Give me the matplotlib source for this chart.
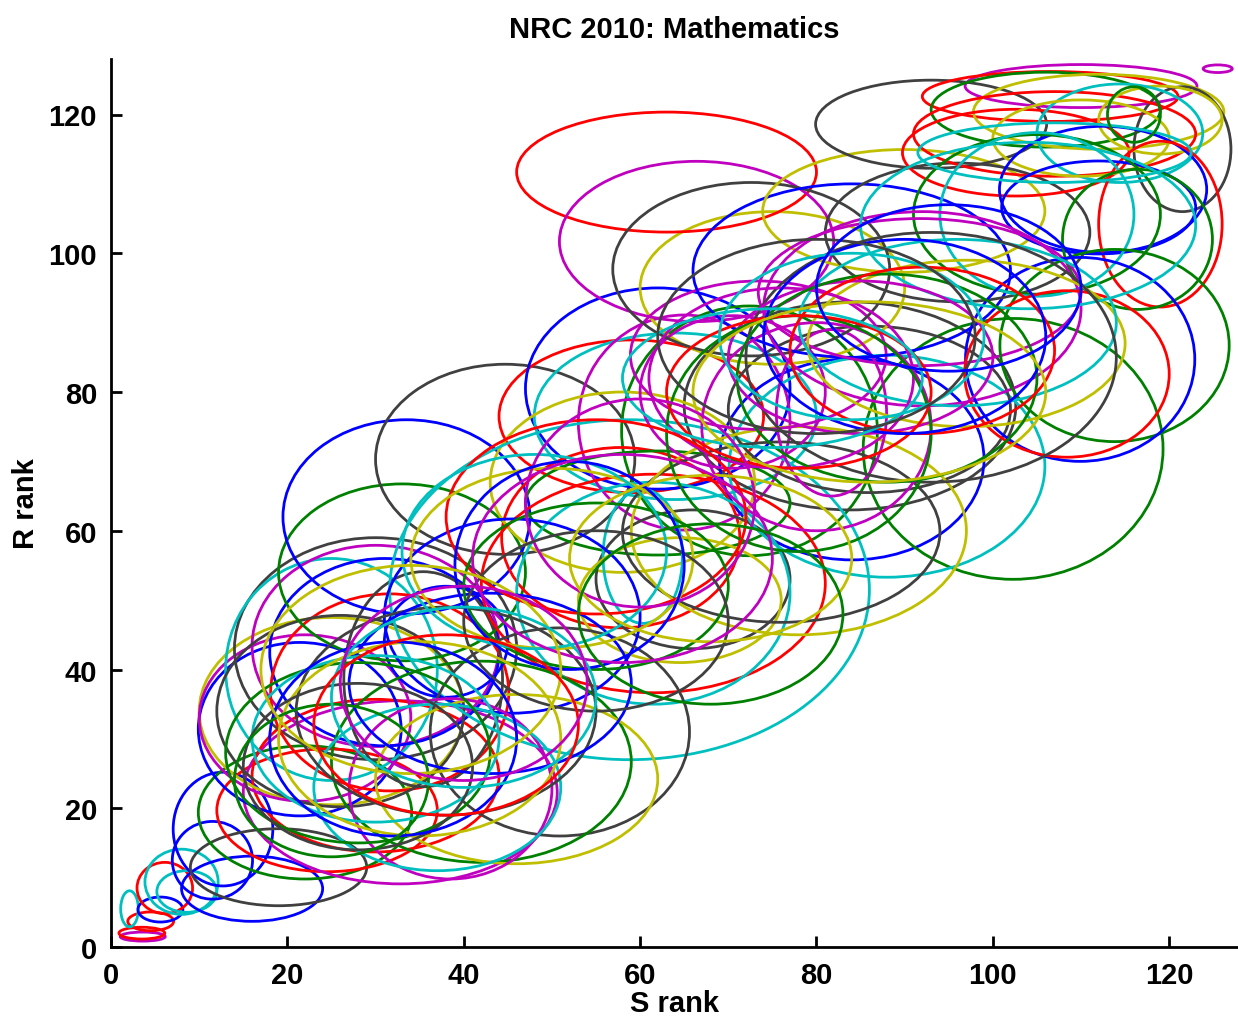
import matplotlib
matplotlib.use("Agg")
from matplotlib import pyplot
from matplotlib.patches import Ellipse

# colour codes (MATLAB style cycle)
COL = {
    "b": "#0000ff", "g": "#008000", "r": "#ff0000", "c": "#00bfbf",
    "m": "#bf00bf", "y": "#bfbf00", "k": "#404040",
}

# one entry per program: colour, S-rank centre, R-rank centre, S range, R range
colors = [
    "m", "r", "r", "c", "b", "r", "c", "c", "b", "b", "b", "k",
    "g", "r", "m", "r", "y", "b", "m", "k", "c", "m", "b", "r", "k", "k", "b", "g", "b",
    "k", "r", "b", "c", "m", "g", "k", "b", "r", "y", "c", "g", "k", "c", "y", "r", "c", "b",
    "k", "g", "y", "m", "c", "k", "b",
    "g", "c", "k", "k", "y", "y", "m", "m", "m",
    "r", "m", "k", "b", "y", "k", "k",
    "m", "m", "r", "g", "y", "k", "r", "r", "y", "c", "y", "b", "r", "b", "g", "c", "g",
    "m", "m", "g", "b", "r", "c", "g",
    "y", "c", "c", "k",
    "m", "m", "m", "g", "g", "r", "r", "b", "c", "c", "y", "k", "b",
    "r", "y", "g", "c", "m", "k", "b", "y", "m", "g",
    "g", "c", "y", "k", "b", "g", "y", "c", "r", "m",
]
s_center = [
    3.6, 3.5, 4.5, 2.1, 5.6, 6.1, 8.0, 8.6, 11.5, 12.7, 16.0, 19.0,
    22.0, 24.5, 32.8, 30.0, 25.0, 21.4, 22.0, 30.0, 25.0, 30.0, 31.0, 31.6, 26.0, 35.4, 38.0, 33.0, 33.5,
    44.7, 59.0, 62.0, 64.0, 65.0, 72.4, 83.8, 84.0, 57.8, 58.0, 58.8, 62.0, 66.0, 60.3, 64.5, 61.5, 61.5, 45.5,
    50.9, 42.0, 46.0, 38.5, 37.0, 38.0, 43.0,
    102.3, 88.0, 86.0, 76.0, 78.0, 75.0, 73.4, 70.5, 81.7,
    63.0, 66.4, 72.6, 84.0, 89.9, 93.0, 96.0,
    125.5, 110.0, 106.5, 106.0, 112.0, 121.5, 107.0, 102.6, 119.0, 114.4, 110.0, 112.5, 119.0, 112.0, 105.0, 105.0, 116.4,
    92.0, 91.7, 113.8, 109.9, 108.4, 107.0, 116.0,
    97.0, 104.0, 96.0, 93.0,
    76.0, 80.0, 85.0, 88.0, 78.0, 92.0, 78.0, 90.0, 84.0, 75.0, 86.0, 80.0, 95.0,
    55.0, 50.0, 55.0, 48.0, 60.0, 55.0, 52.0, 68.0, 58.0, 68.0,
    28.0, 30.0, 35.0, 28.0, 32.0, 25.0, 34.0, 40.0, 38.0, 40.0,
]
r_center = [
    1.5, 2.0, 3.7, 5.5, 5.4, 8.5, 9.4, 8.0, 12.5, 17.0, 8.4, 11.5,
    19.4, 19.7, 22.3, 24.7, 34.0, 31.4, 33.0, 43.0, 40.0, 43.4, 42.5, 36.7, 34.0, 38.6, 44.0, 54.0, 62.0,
    70.3, 76.5, 80.5, 76.5, 75.6, 74.4, 78.0, 70.3, 59.0, 67.0, 51.5, 64.0, 53.0, 56.3, 50.0, 52.4, 51.0, 47.7,
    31.0, 26.7, 24.2, 22.8, 23.0, 34.0, 38.0,
    71.8, 69.3, 77.5, 59.8, 60.0, 95.0, 85.3, 80.0, 77.0,
    111.7, 101.7, 97.7, 97.5, 106.1, 118.6, 103.0,
    126.6, 124.1, 122.6, 120.7, 120.4, 115.0, 117.2, 114.5, 119.2, 117.3, 116.6, 109.2, 104.2, 106.6, 105.6, 105.6, 102.0,
    92.0, 94.4, 86.7, 84.7, 82.6, 114.5, 120.0,
    87.0, 104.0, 90.0, 85.0,
    82.0, 75.0, 85.0, 82.0, 74.0, 86.0, 80.0, 88.0, 88.0, 82.0, 80.0, 88.0, 95.0,
    62.0, 56.0, 52.0, 57.0, 64.0, 47.0, 55.0, 56.0, 56.0, 48.0,
    28.0, 30.0, 30.0, 26.0, 30.0, 24.0, 40.0, 36.0, 32.0, 38.0,
]
s_width = [
    5.1, 5.2, 5.2, 2.0, 5.1, 6.3, 8.3, 6.8, 9.1, 11.3, 16.0, 20.0,
    24.2, 25.0, 35.6, 28.0, 30.0, 23.0, 24.0, 32.0, 24.0, 28.0, 26.0, 27.0, 28.0, 18.0, 14.0, 28.0, 28.0,
    29.4, 30.0, 30.0, 32.0, 24.0, 29.0, 37.6, 30.0, 27.0, 30.0, 54.4, 30.0, 22.0, 9.0, 23.0, 39.0, 31.0, 29.0,
    29.4, 34.0, 32.0, 23.0, 28.0, 34.0, 32.0,
    34.0, 35.8, 32.0, 36.0, 38.0, 30.0, 29.0, 21.0, 12.5,
    34.0, 31.1, 31.4, 36.0, 32.0, 26.2, 30.0,
    3.3, 26.3, 29.0, 26.0, 28.4, 11.0, 32.0, 25.7, 14.0, 18.8, 20.0, 23.5, 14.0, 22.0, 28.0, 22.0, 17.0,
    36.0, 36.6, 26.0, 26.0, 23.2, 31.0, 6.0,
    36.0, 38.0, 36.0, 42.0,
    30.0, 26.0, 30.0, 34.0, 30.0, 30.0, 30.0, 32.0, 30.0, 34.0, 40.0, 36.0, 30.0,
    34.0, 32.0, 30.0, 30.0, 26.0, 30.0, 26.0, 32.0, 34.0, 30.0,
    30.0, 28.0, 32.0, 26.0, 28.0, 22.0, 34.0, 30.0, 30.0, 28.0,
]
r_height = [
    1.3, 1.7, 2.7, 5.2, 3.6, 7.4, 9.4, 6.0, 11.2, 16.4, 9.4, 11.1,
    19.2, 17.7, 26.4, 22.0, 27.0, 25.0, 24.0, 32.0, 32.0, 29.0, 27.0, 28.4, 27.6, 31.0, 16.0, 25.5, 28.0,
    27.4, 22.0, 29.0, 24.0, 31.0, 36.0, 30.0, 29.0, 26.0, 26.0, 49.0, 15.0, 20.0, 19.3, 18.0, 31.5, 32.0, 28.0,
    30.0, 29.0, 24.4, 26.0, 24.0, 30.0, 26.0,
    37.6, 32.0, 24.0, 26.0, 30.0, 22.0, 21.4, 22.0, 24.0,
    17.3, 23.1, 25.0, 25.0, 17.7, 12.7, 20.0,
    1.1, 6.2, 7.2, 10.8, 10.8, 18.0, 12.2, 12.5, 9.8, 14.2, 11.0, 18.2, 23.9, 13.4, 23.0, 23.6, 20.2,
    28.0, 21.2, 27.7, 29.4, 24.0, 8.6, 8.0,
    24.0, 24.0, 24.0, 36.0,
    26.0, 30.0, 22.0, 30.0, 34.0, 24.0, 22.0, 28.0, 24.0, 20.0, 26.0, 28.0, 24.0,
    28.0, 26.0, 24.0, 28.0, 30.0, 26.0, 30.0, 24.0, 30.0, 26.0,
    26.0, 24.0, 28.0, 24.0, 28.0, 22.0, 30.0, 26.0, 26.0, 28.0,
]

pyplot.rcParams["font.family"] = ["Liberation Sans", "DejaVu Sans"]
pyplot.rcParams["font.weight"] = "bold"

fig = pyplot.figure(figsize=(12.38, 10.20), dpi=100)
ax = fig.add_axes([111 / 1238, 72 / 1020, 1127 / 1238, 888 / 1020])

for c, sx, ry, sw, rh in zip(colors, s_center, r_center, s_width, r_height):
    ax.add_patch(Ellipse((sx, ry), sw, rh, fill=False, edgecolor=COL[c], lw=2.0))

ax.set_xlim(0, 127.8)
ax.set_ylim(0, 128)
ax.set_xticks([0, 20, 40, 60, 80, 100, 120])
ax.set_yticks([0, 20, 40, 60, 80, 100, 120])
for side in ["top", "right"]:
    ax.spines[side].set_visible(False)
for side in ["left", "bottom"]:
    ax.spines[side].set_linewidth(2)
ax.tick_params(direction="in", length=8, width=2, labelsize=21, pad=10)
[lbl.set_fontweight("bold") for lbl in ax.get_xticklabels() + ax.get_yticklabels()]
ax.set_xlabel("S rank", fontsize=21, fontweight="bold", labelpad=0)
ax.set_ylabel("R rank", fontsize=21, fontweight="bold", labelpad=6)
ax.set_title("NRC 2010: Mathematics", fontsize=21, fontweight="bold", pad=16)

fig.savefig("out.png", dpi=100)
